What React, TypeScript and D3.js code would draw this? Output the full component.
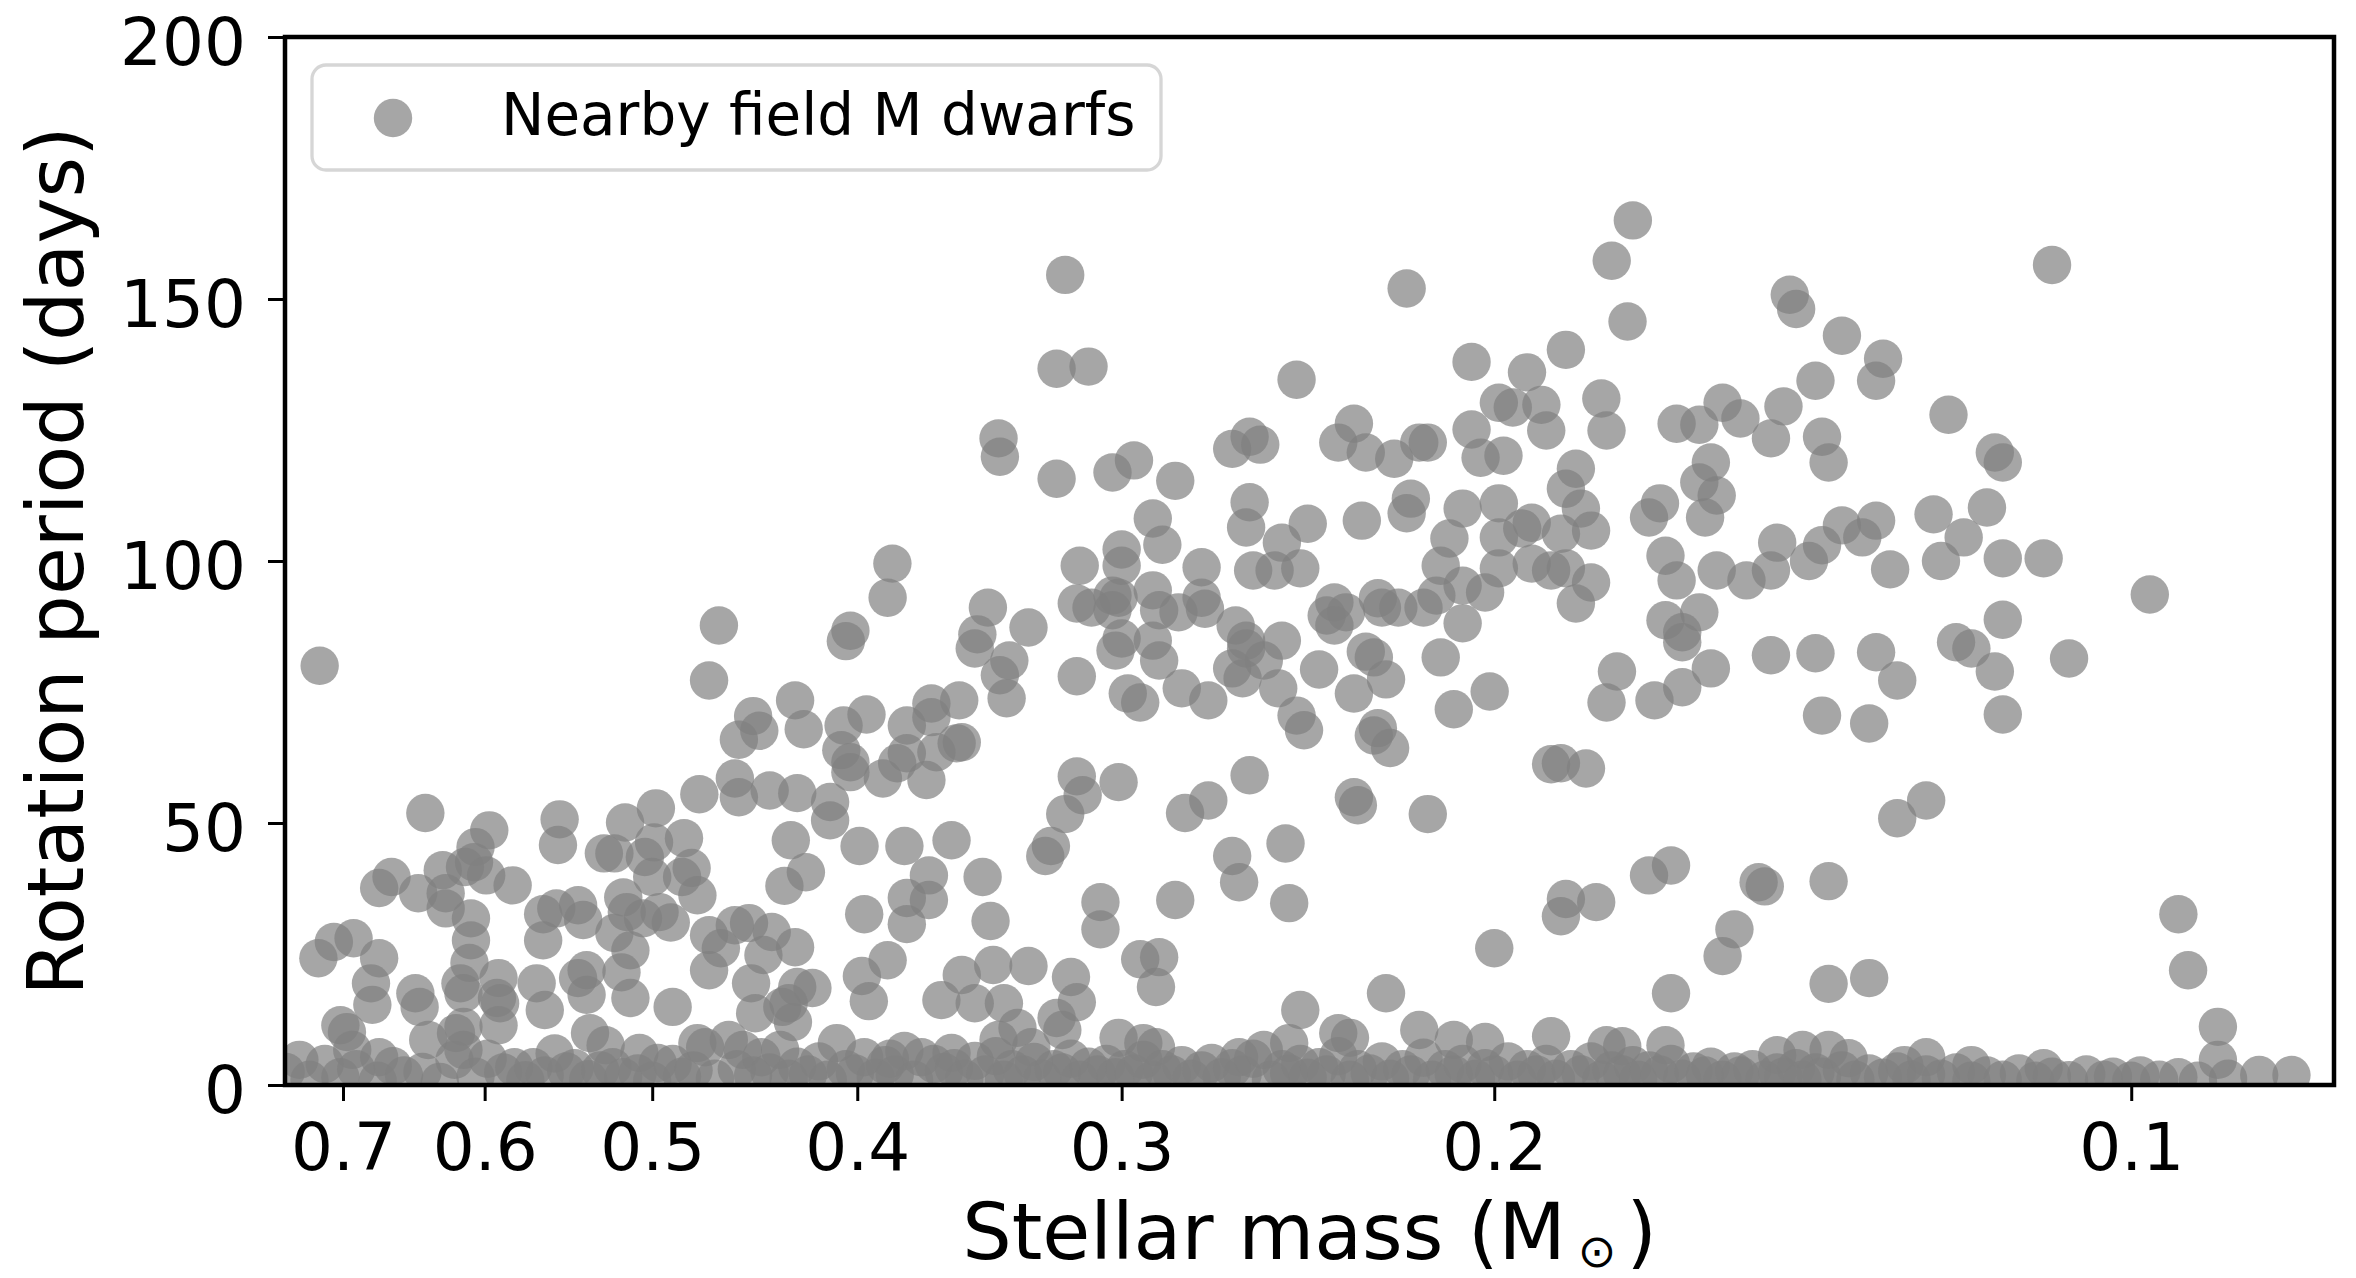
import React, { useEffect, useRef } from 'react';
import * as d3 from 'd3';

const WIDTH = 2356;
const HEIGHT = 1278;

const xTickValues = [0.7, 0.6, 0.5, 0.4, 0.3, 0.2, 0.1];
const yTickValues = [0, 50, 100, 150, 200];
const massDomain = [0.7456, 0.0802];
const periodDomain = [0, 200];
const legendLabel = 'Nearby field M dwarfs';
const xLabel = 'Stellar mass (M';
const yLabel = 'Rotation period (days)';

// [stellar mass (Msun), rotation period (days)]
const longPeriodEarly: [number, number][] = [
  [0.718,80],[0.465,87.7],[0.470,77.2],[0.448,70.4],[0.428,73.4],[0.455,65.9],[0.445,67.6],[0.424,67.9],
  [0.475,55.5],[0.457,58.5],[0.455,54.9],[0.440,56.2],[0.427,55.7],[0.498,52.8],[0.515,50.1],[0.640,51.9],
  [0.597,48.6],[0.606,45.4],[0.607,42.5],[0.613,41.6],[0.599,40],[0.582,38.1],[0.628,41],[0.626,36.6],
  [0.626,33.7],[0.609,31.8],[0.609,27.6],[0.610,23.3],[0.664,39.7],[0.673,37.6],[0.645,36.6],[0.553,50.7],
  [0.554,45.8],[0.527,44.2],[0.521,44.2],[0.504,43.5],[0.499,46.3],[0.483,47.1],[0.479,41.4],[0.484,39.7],
  [0.476,36.2],[0.500,39.7],[0.516,35.8],[0.514,33],[0.505,31.8],[0.490,31],[0.496,33],[0.542,34.3],
  [0.555,33.7],[0.563,32.6],[0.563,27.6],[0.539,31.5],[0.521,29],[0.512,25.7],[0.517,21.5],[0.512,16.6],
  [0.489,14.9],[0.537,21.9],[0.542,20.4],[0.537,17.2],[0.567,19.4],[0.562,14.3],[0.535,9.9],[0.526,7.6],
  [0.507,6.1],[0.591,20.4],[0.592,16.6],[0.590,15.6],[0.591,11.4],[0.616,19.4],[0.614,17.5],[0.647,17.5],
  [0.644,14.9],[0.638,8.6],[0.619,9.9],[0.614,11.1],[0.678,15.3],[0.679,19.4],[0.673,24.2],[0.692,28],
  [0.707,27.3],[0.719,24.2],[0.702,11.4],[0.697,10.1],[0.693,6.7],[0.673,5.3],[0.470,28.6],[0.464,26.1],
  [0.470,21.9],[0.457,30.5],[0.450,30.9],[0.439,29.2],[0.443,24.8],[0.449,19.4],[0.427,18.7],[0.434,14.9],
  [0.447,13.7],[0.429,12],[0.476,8],[0.433,38],[0.430,46.7],[0.428,26.3],
];

const longPeriodMid: [number, number][] = [
  [0.385,99.5],[0.387,93],[0.403,86.7],[0.405,84.7],[0.347,91.1],[0.351,86],[0.352,83.3],[0.332,87.3],
  [0.339,81],[0.3425,78.2],[0.340,73.8],[0.315,91.9],[0.310,91.1],[0.303,93.4],[0.301,93],[0.303,90.6],
  [0.290,94.4],[0.288,90.6],[0.282,90.2],[0.275,93],[0.274,90.9],[0.275,98.8],[0.260,98.2],[0.254,98.2],
  [0.247,98.6],[0.314,99.1],[0.300,99.1],[0.300,85.2],[0.302,82.9],[0.290,84.8],[0.288,81],[0.281,75.7],
  [0.298,74.7],[0.294,73],[0.273,73.4],[0.265,87.7],[0.262,84.8],[0.262,83.3],[0.257,81],[0.266,79.5],
  [0.263,77.6],[0.252,84.8],[0.253,75.7],[0.248,70.5],[0.246,67.7],[0.315,78],[0.406,68.6],[0.396,70.7],
  [0.407,63.9],[0.403,61.6],[0.403,59.7],[0.389,58.5],[0.379,68.6],[0.369,72.8],[0.369,70.2],[0.358,73.4],
  [0.357,65.4],[0.359,65.2],[0.367,63.5],[0.371,58.2],[0.379,63.3],[0.383,61.4],[0.412,54],[0.412,50.5],
  [0.423,40.6],[0.399,45.6],[0.380,45.6],[0.361,46.7],[0.370,40],[0.349,39.7],[0.379,35.7],[0.370,35.3],
  [0.379,30.7],[0.397,32.6],[0.346,31.3],[0.387,23.8],[0.398,20.8],[0.395,16],[0.420,18.5],[0.431,15.6],
  [0.357,21],[0.345,22.9],[0.332,22.7],[0.365,16.2],[0.352,15.6],[0.341,15.6],[0.336,10.9],[0.343,8.6],
  [0.317,20.6],[0.315,15.8],[0.322,12.8],[0.320,10.5],[0.301,9],[0.293,8],[0.289,7.2],[0.247,14.3],
  [0.250,8],[0.315,58.9],[0.313,55.3],[0.319,51.7],[0.324,45.6],[0.326,43.7],[0.301,57.8],[0.261,59.1],
  [0.273,54.3],[0.280,51.9],[0.251,46.1],[0.266,43.7],[0.264,38.7],[0.250,34.7],[0.283,35.3],[0.307,34.9],
  [0.307,29.7],[0.294,24],[0.288,24.4],[0.289,18.7],
];

const longPeriodLate: [number, number][] = [
  [0.238,92.1],[0.240,89.6],[0.235,90.2],[0.238,87.7],[0.227,92.9],[0.226,91.1],[0.222,91.1],[0.216,91.1],
  [0.213,93.4],[0.207,95.3],[0.202,94],[0.207,88.1],[0.212,99.1],[0.199,98.6],[0.192,99.5],[0.188,98.2],
  [0.185,98.6],[0.180,95.9],[0.183,91.9],[0.166,101],[0.164,96.3],[0.157,98.2],[0.152,96.3],[0.148,98.2],
  [0.142,100],[0.166,88.7],[0.160,90.2],[0.163,86.4],[0.163,84.5],[0.158,79.5],[0.163,75.9],[0.168,73.4],
  [0.175,78.9],[0.177,73],[0.148,82],[0.141,82.4],[0.242,79.3],[0.230,82.7],[0.228,81.6],[0.225,77.4],
  [0.233,74.7],[0.227,68.1],[0.228,66.7],[0.224,64.3],[0.212,81.6],[0.209,71.7],[0.201,75.1],[0.188,61.2],
  [0.186,61.4],[0.181,60.4],[0.233,54.9],[0.232,53.4],[0.215,51.7],[0.169,40],[0.165,41.9],[0.150,38.7],
  [0.149,37.9],[0.185,35.5],[0.179,34.9],[0.186,32.2],[0.154,29.7],[0.156,24.6],[0.200,26.1],[0.225,17.5],
  [0.165,17.5],[0.237,9.9],[0.234,9],[0.217,10.5],[0.209,8.6],[0.202,8.2],[0.188,9.3],[0.177,7.6],
  [0.174,7.4],[0.166,7.6],[0.147,5.7],[0.143,6.7],
  [0.130,98.4],[0.123,100],[0.115,100.5],[0.110,100.5],[0.098,93.6],[0.115,88.8],[0.121,84.5],[0.119,83.3],
  [0.116,78.9],[0.107,81.4],[0.132,82.6],[0.129,77.2],[0.140,70.5],[0.133,69],[0.115,70.7],[0.129,50.9],
  [0.125,54.3],[0.139,38.9],[0.095,32.6],[0.094,21.9],[0.091,11.1],[0.091,4.8],[0.139,19.3],[0.133,20.4],
  [0.139,6.7],[0.136,5.1],[0.128,3.8],[0.125,5.3],[0.119,3.8],[0.110,3.2],[0.087,1.9],[0.084,1.9],
];

const longPeriodUpper: [number, number][] = [
  [0.319,154.6],[0.322,136.7],[0.311,137.1],[0.220,152],[0.248,134.6],[0.172,165],[0.176,157.3],[0.173,145.7],
  [0.185,140.3],[0.205,138],[0.193,136],[0.343,123.4],[0.3425,119.9],[0.322,115.7],[0.303,116.9],[0.296,119.2],
  [0.283,115.3],[0.290,108.1],[0.287,103.1],[0.300,102.2],[0.261,111.2],[0.262,106.4],[0.252,103.5],[0.245,107.1],
  [0.266,121.4],[0.261,123.7],[0.258,122.2],[0.237,122.6],[0.233,126.2],[0.230,120.7],[0.223,119.5],[0.217,122.6],
  [0.215,122.6],[0.231,107.7],[0.219,111.9],[0.220,109.1],[0.205,125.1],[0.203,119.7],[0.198,120.1],[0.199,130.2],
  [0.196,129.3],[0.190,129.8],[0.189,124.9],[0.178,131],[0.177,124.9],[0.183,117.6],[0.185,113.8],[0.182,110],
  [0.180,105.8],[0.169,108.3],[0.207,110],[0.199,111],[0.194,106.2],[0.192,107.3],[0.186,105.2],[0.199,104.5],
  [0.210,104.3],
  [0.109,156.5],[0.145,150.8],[0.144,148.1],[0.137,143],[0.131,138.6],[0.132,134.4],[0.141,134.4],[0.122,127.9],
  [0.116,120.7],[0.115,118.8],[0.156,130.2],[0.164,126.2],[0.160,126],[0.153,127.2],[0.146,129.5],[0.148,123.4],
  [0.140,123.7],[0.139,118.8],[0.158,118.8],[0.160,115],[0.157,112.5],[0.159,108.3],[0.167,111],[0.137,106.8],
  [0.132,107.7],[0.134,104.5],[0.140,103],[0.147,103.5],[0.124,108.9],[0.117,110.2],[0.120,104.5],
];

const shortPeriodBand: [number, number][] = [
  [0.745,2.5],[0.734,4.8],[0.726,1.0],[0.714,4.0],[0.702,1.5],[0.690,3.0],[0.674,0.8],[0.663,3.6],[0.655,1.8],
  [0.642,2.5],[0.630,0.6],[0.620,4.8],[0.614,6.7],[0.606,1.6],[0.598,5.0],[0.588,2.4],[0.581,3.4],[0.574,0.9],
  [0.569,3.4],[0.562,1.8],[0.556,6.0],[0.549,2.6],[0.544,3.2],[0.536,1.1],[0.529,2.8],[0.522,3.4],[0.516,1.5],
  [0.508,2.2],[0.500,0.8],[0.497,4.2],[0.489,4.0],[0.484,1.6],[0.478,2.8],[0.472,7.2],[0.467,1.2],[0.460,8.6],
  [0.456,3.0],[0.453,6.7],[0.448,1.8],[0.444,5.3],[0.440,2.4],[0.435,6.7],[0.431,1.2],[0.427,3.5],[0.422,2.0],
  [0.417,4.5],[0.413,1.0],[0.409,8.0],[0.405,3.0],[0.401,2.2],[0.397,5.3],[0.392,1.4],[0.388,3.8],[0.386,5.0],
  [0.384,2.0],[0.380,6.5],[0.376,1.0],[0.373,5.3],[0.368,4.0],[0.364,2.5],[0.361,6.1],[0.360,3.2],[0.356,1.2],
  [0.352,4.6],[0.348,2.0],[0.344,5.5],[0.341,1.0],[0.338,3.0],[0.334,2.0],[0.331,7.2],[0.330,4.4],[0.327,1.2],
  [0.323,3.0],[0.320,2.4],[0.317,5.0],[0.314,1.0],[0.311,3.5],[0.308,2.0],[0.305,4.0],[0.302,1.5],[0.299,3.0],
  [0.296,2.2],[0.293,4.8],[0.290,1.0],[0.287,3.0],[0.284,2.0],[0.281,3.8],[0.278,1.2],[0.275,2.8],[0.272,4.2],
  [0.269,1.5],[0.266,3.2],[0.264,5.3],[0.263,2.0],[0.260,5.0],[0.257,6.7],[0.255,1.0],[0.252,3.0],[0.250,2.2],
  [0.247,4.0],[0.245,1.4],[0.242,3.4],[0.240,2.0],[0.237,5.5],[0.234,1.0],[0.232,3.0],[0.229,2.2],[0.226,4.5],
  [0.224,1.2],[0.221,3.0],[0.219,2.0],[0.216,5.2],[0.214,1.0],[0.211,3.0],[0.209,2.0],[0.207,4.0],[0.204,1.2],
  [0.202,3.2],[0.200,2.0],[0.197,4.5],[0.195,1.0],[0.193,3.0],[0.191,2.0],[0.189,4.0],[0.187,1.2],[0.184,3.0],
  [0.182,2.0],[0.180,4.5],[0.178,1.0],[0.176,2.8],[0.174,2.0],[0.172,3.8],[0.171,1.0],[0.169,2.8],[0.167,2.0],
  [0.165,4.0],[0.163,1.2],[0.161,2.6],[0.159,1.8],[0.158,3.5],[0.156,1.0],[0.154,2.6],[0.153,1.8],[0.151,3.0],
  [0.149,1.0],[0.147,2.4],[0.146,1.6],[0.144,3.2],[0.143,1.0],[0.141,2.4],[0.140,1.6],[0.137,2.8],[0.135,1.0],
  [0.133,2.2],[0.131,1.4],[0.129,2.6],[0.127,1.0],[0.125,2.0],[0.123,1.2],[0.121,2.4],[0.119,0.8],[0.117,1.8],
  [0.115,1.0],[0.113,2.2],[0.111,0.8],[0.109,1.6],[0.107,0.9],[0.105,2.0],[0.103,1.0],[0.102,1.6],[0.100,0.8],
  [0.099,1.8],[0.097,1.0],[0.095,1.5],[0.093,0.8],[0.090,1.2],
];

const FONT = '"DejaVu Sans", sans-serif';

export default function App() {
  const ref = useRef<SVGSVGElement>(null);

  useEffect(() => {
    const svg = d3.select(ref.current);
    svg.selectAll('*').remove();

    const plot = { left: 285, right: 2334, top: 37, bottom: 1085 };
    const x = d3.scaleLog().domain(massDomain).range([plot.left, plot.right]);
    const y = d3.scaleLinear().domain(periodDomain).range([plot.bottom, plot.top]);

    svg.append('rect').attr('width', WIDTH).attr('height', HEIGHT).attr('fill', '#ffffff');

    svg.append('defs').append('clipPath').attr('id', 'plot-clip')
      .append('rect')
      .attr('x', plot.left).attr('y', plot.top)
      .attr('width', plot.right - plot.left).attr('height', plot.bottom - plot.top);

    const allPoints = [
      ...longPeriodEarly, ...longPeriodMid, ...longPeriodLate, ...longPeriodUpper, ...shortPeriodBand,
    ];

    svg.append('g').attr('clip-path', 'url(#plot-clip)')
      .selectAll('circle').data(allPoints).enter().append('circle')
      .attr('cx', d => x(d[0]))
      .attr('cy', d => y(d[1]))
      .attr('r', 19.2)
      .attr('fill', '#808080')
      .attr('fill-opacity', 0.7);

    // x axis
    const xAxis = d3.axisBottom(x).tickValues(xTickValues)
      .tickFormat(d3.format('.1f') as any).tickSize(16).tickPadding(22);
    const gx = svg.append('g').attr('transform', `translate(0,${plot.bottom})`).call(xAxis);
    gx.select('.domain').remove();
    gx.selectAll('line').attr('stroke', '#000').attr('stroke-width', 3);
    gx.selectAll('text').attr('font-family', FONT).attr('font-size', 66).attr('fill', '#000');

    // y axis
    const yAxis = d3.axisLeft(y).tickValues(yTickValues)
      .tickFormat(d3.format('d') as any).tickSize(17).tickPadding(22);
    const gy = svg.append('g').attr('transform', `translate(${plot.left},0)`).call(yAxis);
    gy.select('.domain').remove();
    gy.selectAll('line').attr('stroke', '#000').attr('stroke-width', 3);
    gy.selectAll('text').attr('font-family', FONT).attr('font-size', 66).attr('fill', '#000')
      .attr('dy', '0.42em');

    // spines
    svg.append('rect')
      .attr('x', plot.left).attr('y', plot.top)
      .attr('width', plot.right - plot.left).attr('height', plot.bottom - plot.top)
      .attr('fill', 'none').attr('stroke', '#000').attr('stroke-width', 4.5);

    // x label
    const xl = svg.append('text')
      .attr('x', (plot.left + plot.right) / 2).attr('y', 1259)
      .attr('text-anchor', 'middle')
      .attr('font-family', FONT).attr('font-size', 78).attr('fill', '#000');
    xl.append('tspan').text(xLabel);
    xl.append('tspan').attr('dx', 12).attr('dy', 8).attr('font-size', 46).text('\u2299');
    xl.append('tspan').attr('dx', 10).attr('dy', -8).text(')');

    // y label
    svg.append('text')
      .attr('transform', `translate(83,${(plot.top + plot.bottom) / 2}) rotate(-90)`)
      .attr('text-anchor', 'middle')
      .attr('font-family', FONT).attr('font-size', 78).attr('fill', '#000')
      .text(yLabel);

    // legend
    const lg = svg.append('g');
    lg.append('rect')
      .attr('x', 312).attr('y', 65).attr('width', 849).attr('height', 105)
      .attr('rx', 14).attr('ry', 14)
      .attr('fill', '#ffffff').attr('fill-opacity', 0.8)
      .attr('stroke', '#d6d6d6').attr('stroke-width', 3.3);
    lg.append('circle')
      .attr('cx', 393).attr('cy', 118).attr('r', 19.2)
      .attr('fill', '#808080').attr('fill-opacity', 0.7);
    lg.append('text')
      .attr('x', 501).attr('y', 135)
      .attr('font-family', FONT).attr('font-size', 58).attr('fill', '#000')
      .text(legendLabel);
  }, []);

  return (
    <svg
      ref={ref}
      width={WIDTH}
      height={HEIGHT}
      style={{ position: 'absolute', left: 0, top: 0, display: 'block' }}
    />
  );
}
